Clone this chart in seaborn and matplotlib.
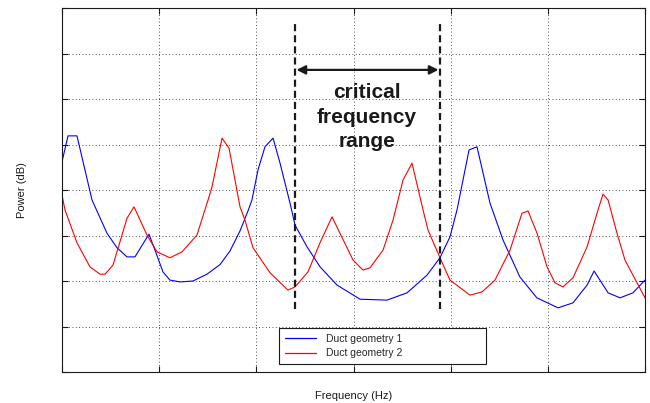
import matplotlib
matplotlib.use("Agg")
import numpy as np
import pandas as pd
import matplotlib.pyplot as plt
import seaborn as sns

# ---- data ----
series_names = ["Duct geometry 1", "Duct geometry 2"]

freq_geom1 = [0, 6.2, 15.4, 30.9, 46.3, 56.6, 66.9, 75.1, 89.5, 95.7,
              103.9, 111.1, 121.4, 134.8, 149.2, 162.6, 172.9, 183.2, 191.4, 195.5, 201.7, 208.9,
              217.2, 224.4, 234.7, 239.8, 252.2, 265.6, 283.1, 306.7, 334.5, 355.1,
              375.7, 389.0, 399.3, 406.5, 418.9, 427.1, 440.5, 453.9, 471.2, 488.7,
              510.5, 525.9, 540.4, 547.6, 562.0, 574.3, 587.6, 600]
power_geom1 = [46.2, 51.9, 51.9, 37.8, 30.5, 27.3, 25.3, 25.3, 30.3, 26.8,
               22.0, 20.2, 19.8, 20.0, 21.5, 23.6, 26.6, 31.0, 35.4, 37.8, 44.4, 49.5,
               51.4, 45.9, 37.1, 32.3, 27.5, 23.1, 19.1, 16.0, 15.8, 17.4,
               21.3, 25.1, 29.7, 35.6, 48.8, 49.5, 37.1, 29.0, 20.9, 16.3,
               14.1, 15.2, 19.1, 22.2, 17.4, 16.3, 17.4, 20.2]

freq_geom2 = [0, 3.1, 15.4, 28.8, 39.1, 44.3, 52.5, 66.9, 74.1, 87.5,
              97.8, 111.1, 123.5, 138.9, 150.3, 154.4, 164.7, 171.9, 183.2, 188.3,
              196.6, 214.1, 232.6, 239.8, 253.2, 265.5, 277.9, 286.1, 299.5, 309.8,
              317.0, 330.4, 340.7, 351.0, 360.2, 371.6, 376.7, 389.0, 399.3, 419.9,
              432.3, 445.6, 461.1, 473.4, 479.6, 488.9, 499.2, 507.4, 515.6, 525.9,
              540.4, 550.6, 556.8, 562.0, 571.2, 579.4, 591.8, 600]
power_geom2 = [38.9, 35.6, 28.4, 23.1, 21.5, 21.5, 23.5, 33.8, 36.3, 30.1,
               26.4, 25.1, 26.4, 30.1, 37.8, 40.7, 51.4, 49.2, 36.3, 33.4,
               27.3, 21.8, 18.0, 18.7, 22.0, 28.4, 34.1, 30.5, 24.6, 22.4,
               22.9, 26.8, 33.4, 42.2, 45.9, 35.6, 31.2, 25.1, 20.2, 16.9,
               17.6, 20.2, 26.8, 34.9, 35.4, 30.5, 23.1, 19.6, 18.7, 20.7,
               27.5, 34.9, 39.1, 37.8, 30.5, 24.6, 19.6, 16.3]

x_ticks = [0, 100, 200, 300, 400, 500, 600]
y_ticks = [0, 10, 20, 30, 40, 50, 60, 70, 80]

critical_range = (239.8, 389.0)
critical_label = "critical\nfrequency\nrange"
x_label = "Frequency (Hz)"
y_label = "Power (dB)"

# ---- style ----
sns.set_theme(style="white")
plt.rcParams['font.family'] = ['Liberation Sans', 'DejaVu Sans']

fig = plt.figure(figsize=(6.5, 4.03), dpi=100)
ax = fig.add_axes([62 / 650, 31 / 403, 583 / 650, 364 / 403])

df = pd.concat([
    pd.DataFrame({"freq": freq_geom1, "power": power_geom1, "series": series_names[0]}),
    pd.DataFrame({"freq": freq_geom2, "power": power_geom2, "series": series_names[1]}),
], ignore_index=True)

sns.lineplot(data=df, x="freq", y="power", hue="series",
             palette={series_names[0]: "#0000ff", series_names[1]: "#ff0000"},
             sort=False, estimator=None, lw=0.8, ax=ax)

ax.set_xlim(x_ticks[0], x_ticks[-1])
ax.set_ylim(y_ticks[0], y_ticks[-1])
ax.set_xticks(x_ticks)
ax.set_yticks(y_ticks)
ax.grid(True, color="k", lw=0.6, ls=(0, (1, 3)))
ax.tick_params(direction="in", length=4, width=0.8, color="k",
               top=True, right=True, bottom=True, left=True,
               labelbottom=False, labelleft=False)
for s in ax.spines.values():
    s.set_visible(True)
    s.set_color("k")
    s.set_linewidth(0.8)

# critical range markers
ax.vlines(critical_range, 13.8, 76.9, colors="k", lw=1.6, linestyles=(0, (3.2, 1.8)))
ax.annotate("", xy=(critical_range[1] - 1.5, 66.4), xytext=(critical_range[0] + 1.5, 66.4),
            arrowprops=dict(arrowstyle="<|-|>", color="k", lw=1.6,
                            mutation_scale=13, shrinkA=0, shrinkB=0))
ax.text(sum(critical_range) / 2 - 0.5, 56.0, critical_label, ha="center", va="center",
        fontsize=15, fontweight="bold", linespacing=1.36, color="k")

# labels
ax.set_xlabel(x_label, fontsize=8, color="k")
ax.set_ylabel(y_label, fontsize=8, color="k")
ax.xaxis.set_label_coords(0.5, -0.051)
ax.yaxis.set_label_coords(-0.06, 0.5)

# legend
handles, labels = ax.get_legend_handles_labels()
leg = ax.legend(handles, labels, loc="upper left",
                bbox_to_anchor=(0.3722, 0.0247, 0.3551, 0.0962), mode="expand",
                borderaxespad=0, fontsize=7.5, frameon=True, fancybox=False,
                edgecolor="k", framealpha=1, handlelength=3.0, handletextpad=1.0,
                borderpad=0.55, labelspacing=0.45)
leg.get_frame().set_linewidth(0.8)
for line in leg.get_lines():
    line.set_linewidth(0.9)

fig.savefig("out.png", dpi=100, facecolor="white")
